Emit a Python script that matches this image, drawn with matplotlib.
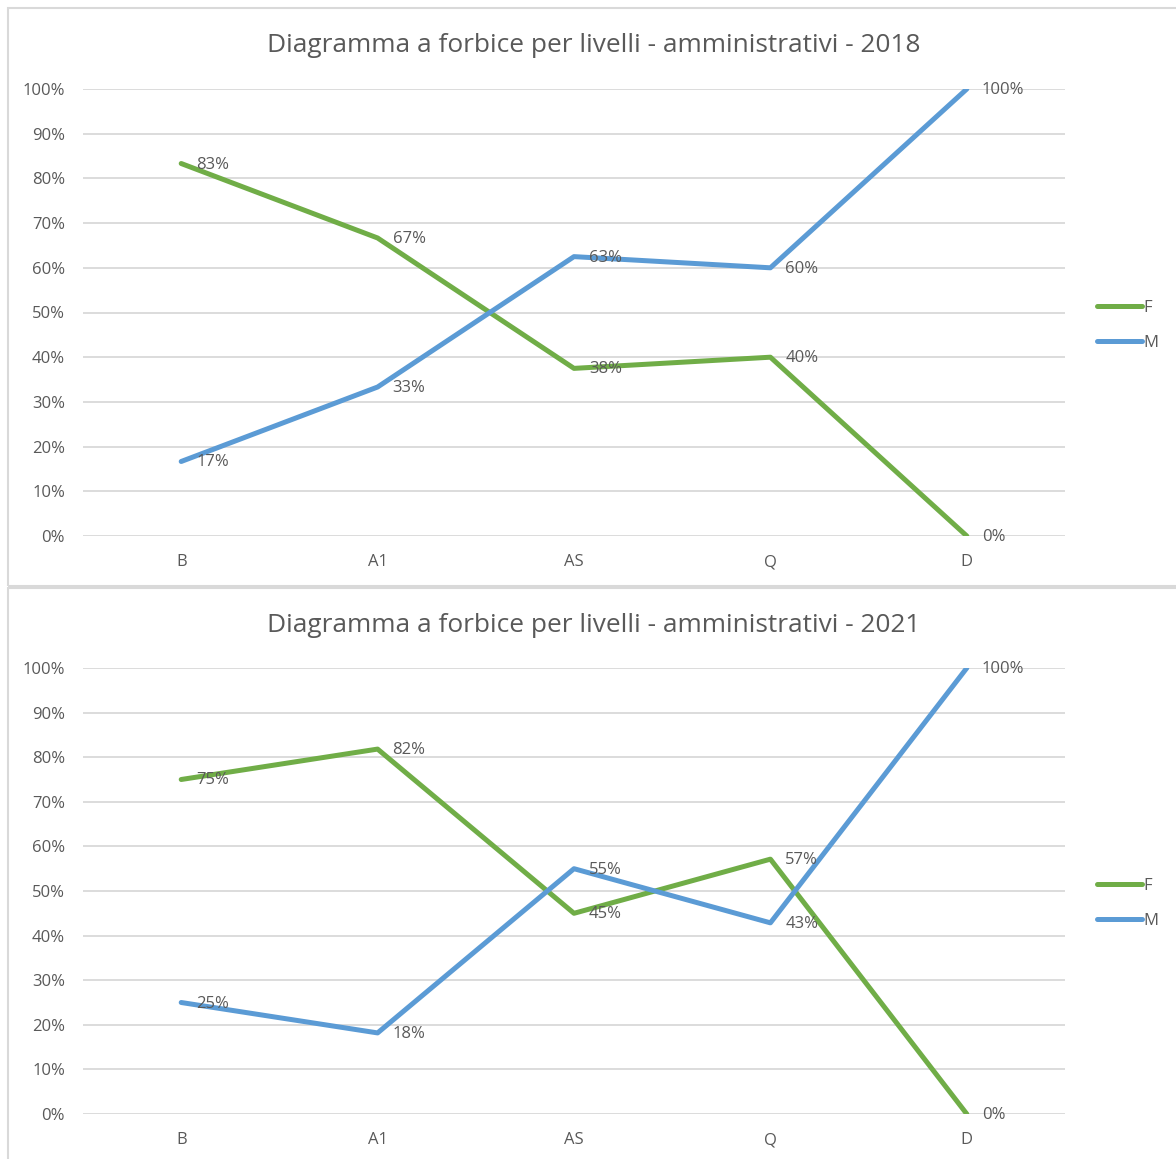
import matplotlib
matplotlib.use("Agg")
import matplotlib.pyplot as plt
from matplotlib.patches import Rectangle
from matplotlib.ticker import PercentFormatter
import math

plt.rcParams['font.family'] = ['Open Sans', 'DejaVu Sans']

categories = ["B", "A1", "AS", "Q", "D"]
f_2018 = [83.33, 66.67, 37.5, 40.0, 0.0]
m_2018 = [16.67, 33.33, 62.5, 60.0, 100.0]
f_2021 = [75.0, 81.82, 45.0, 57.14, 0.0]
m_2021 = [25.0, 18.18, 55.0, 42.86, 100.0]
titles = ["Diagramma a forbice per livelli - amministrativi - 2018",
          "Diagramma a forbice per livelli - amministrativi - 2021"]

GREEN = "#70AD47"
BLUE = "#5B9BD5"
TXT = "#595959"
GRID = "#D9D9D9"

W, H = 1176, 1159
fig = plt.figure(figsize=(W / 100, H / 100), dpi=100)

def fx(x):
    return x / W

def fy(y):
    return 1 - y / H

def pct(v):
    return f"{int(math.floor(v + 0.5))}%"

# chart frames
fig.patches.append(Rectangle((fx(8), fy(586)), fx(1200 - 8), fy(8) - fy(586),
                             transform=fig.transFigure, fill=False,
                             edgecolor=GRID, lw=1.5))
fig.patches.append(Rectangle((fx(8), fy(1200)), fx(1200 - 8), fy(588) - fy(1200),
                             transform=fig.transFigure, fill=False,
                             edgecolor=GRID, lw=1.5))
fig.patches.append(Rectangle((fx(8), fy(589)), fx(1200), fy(585) - fy(589),
                             transform=fig.transFigure, color=GRID, lw=0))

panels = [
    (f_2018, m_2018, titles[0], 89, 536, 46, 308, 343),
    (f_2021, m_2021, titles[1], 668, 1114, 626, 886, 921),
]

for f_vals, m_vals, title, ytop, ybot, ytitle, yleg_f, yleg_m in panels:
    ax = fig.add_axes([fx(83), fy(ybot), fx(1065) - fx(83), fy(ytop) - fy(ybot)])
    x = list(range(len(categories)))
    ax.plot(x, f_vals, color=GREEN, lw=3.6, solid_capstyle='round', label="F", zorder=3)
    ax.plot(x, m_vals, color=BLUE, lw=3.6, solid_capstyle='round', label="M", zorder=3)
    for vals in (f_vals, m_vals):
        for xi, v in zip(x, vals):
            ax.annotate(pct(v), (xi, v), xytext=(15, -1), textcoords='offset pixels',
                        ha='left', va='center', fontsize=12, color=TXT, zorder=4)
    ax.set_xlim(-0.5, 4.5)
    ax.set_ylim(0, 100)
    ax.set_yticks(range(0, 101, 10))
    ax.yaxis.set_major_formatter(PercentFormatter(decimals=0))
    ax.set_xticks(x)
    ax.set_xticklabels(categories)
    ax.tick_params(axis='both', length=0, colors=TXT, labelsize=12)
    ax.tick_params(axis='y', pad=13)
    ax.tick_params(axis='x', pad=13)
    ax.grid(axis='y', color=GRID, lw=1.3, zorder=0)
    for s in ax.spines.values():
        s.set_visible(False)
    ax.set_facecolor('none')
    fig.text(fx(594), fy(ytitle), title, ha='center', va='center',
             fontsize=18.9, color=TXT)
    # legend
    leg = ax.legend(loc='center left', frameon=False, borderaxespad=0, borderpad=0,
                    fontsize=12, labelcolor=TXT, handlelength=2.7, handletextpad=0.1,
                    labelspacing=1.15)
    leg.set_bbox_to_anchor((fx(1097), fy((yleg_f + yleg_m) / 2)), transform=fig.transFigure)
    for line in leg.get_lines():
        line.set_solid_capstyle('round')

fig.savefig("out.png", dpi=100, facecolor="white")
